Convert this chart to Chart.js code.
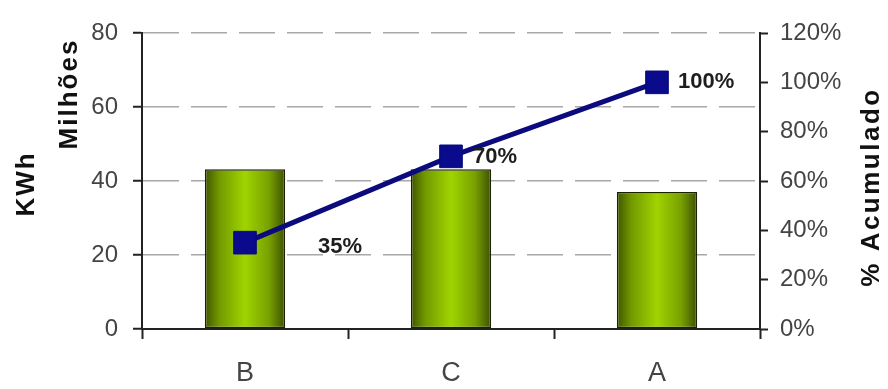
<!DOCTYPE html>
<html>
<head>
<meta charset="utf-8">
<script src="https://cdn.jsdelivr.net/npm/chart.js@4/dist/chart.umd.min.js"></script>
<style>
  html, body { margin: 0; padding: 0; background: #fff; }
  #wrap { width: 888px; height: 389px; }
</style>
</head>
<body>
<div id="wrap"><canvas id="pareto" width="888" height="389"></canvas></div>
<script>
// consumo por grupo (milhões de KWh) e percentual acumulado
const categorias = ['B', 'C', 'A'];
const consumo = [43.2, 43.2, 37.0];
const acumulado = [0.35, 0.70, 1.00];
const kwhTicks = [0, 20, 40, 60, 80];
const pctTicks = [0, 0.2, 0.4, 0.6, 0.8, 1.0, 1.2];

const SANS = '"Liberation Sans", Arial, sans-serif';
const BAR_FRACTION = 0.39;

// gradiente horizontal das barras (escuro nas bordas, claro no meio)
function barGradient(ctx) {
  const chart = ctx.chart;
  const area = chart.chartArea;
  if (!area) return '#8fbf00';
  const x = chart.scales.x.getPixelForValue(ctx.dataIndex);
  const half = (area.right - area.left) / categorias.length * BAR_FRACTION / 2;
  const g = chart.ctx.createLinearGradient(x - half, 0, x + half, 0);
  g.addColorStop(0, '#3f5400');
  g.addColorStop(0.18, '#729a00');
  g.addColorStop(0.5, '#a0d400');
  g.addColorStop(0.8, '#78a000');
  g.addColorStop(1, '#3c5000');
  return g;
}

// rótulos de valor do acumulado, deslocados para a direita de cada ponto
const labelOffsets = [{ dx: 73, dy: 4 }, { dx: 22, dy: 1 }, { dx: 21, dy: 0 }];
const pointLabels = {
  id: 'pointLabels',
  afterDatasetsDraw(chart) {
    const meta = chart.getDatasetMeta(1);
    const ctx = chart.ctx;
    ctx.save();
    ctx.font = 'bold 22px ' + SANS;
    ctx.fillStyle = '#1e1e1e';
    ctx.textAlign = 'left';
    ctx.textBaseline = 'middle';
    meta.data.forEach((pt, i) => {
      const off = labelOffsets[i];
      ctx.fillText(Math.round(acumulado[i] * 100) + '%', pt.x + off.dx, pt.y + off.dy);
    });
    ctx.restore();
  },
};

// títulos dos eixos, girados
const axisTitles = {
  id: 'axisTitles',
  afterDraw(chart) {
    const ctx = chart.ctx;
    const draw = (text, x, y, spacing) => {
      ctx.save();
      ctx.translate(x, y);
      ctx.rotate(-Math.PI / 2);
      ctx.font = 'bold 26px ' + SANS;
      ctx.letterSpacing = spacing + 'px';
      ctx.fillStyle = '#111';
      ctx.textAlign = 'center';
      ctx.textBaseline = 'middle';
      ctx.fillText(text, 0, 0);
      ctx.restore();
    };
    draw('Milhões', 70, 94, 2);
    draw('KWh', 27, 184, 2);
    draw('% Acumulado', 872, 187, 2.5);
  },
};

new Chart(document.getElementById('pareto'), {
  data: {
    labels: categorias,
    datasets: [
      {
        type: 'bar',
        data: consumo,
        yAxisID: 'y',
        order: 2,
        backgroundColor: barGradient,
        borderColor: '#1c2200',
        borderWidth: 1.5,
        borderSkipped: false,
        categoryPercentage: 1,
        barPercentage: BAR_FRACTION,
      },
      {
        type: 'line',
        data: acumulado,
        yAxisID: 'y1',
        order: 1,
        borderColor: '#0b0b7e',
        borderWidth: 5,
        pointStyle: 'rect',
        pointRadius: 16,
        pointBackgroundColor: '#0a0a8c',
        pointBorderColor: '#0a0a7a',
        pointBorderWidth: 1,
        tension: 0,
      },
    ],
  },
  plugins: [pointLabels, axisTitles],
  options: {
    responsive: false,
    animation: false,
    layout: { padding: { top: 33, left: 0, right: 0, bottom: 0 } },
    plugins: {
      legend: { display: false },
      tooltip: { enabled: false },
    },
    scales: {
      x: {
        afterFit: (s) => { s.height = 60; },
        offset: true,
        grid: {
          offset: true,
          drawOnChartArea: false,
          drawTicks: true,
          tickLength: 10,
          tickColor: '#222',
          tickWidth: 2,
        },
        border: { color: '#222', width: 2 },
        ticks: {
          color: '#444',
          font: { family: SANS, size: 27 },
          padding: 18,
        },
      },
      y: {
        position: 'left',
        min: 0,
        max: 80,
        afterFit: (s) => { s.width = 142; },
        afterBuildTicks: (s) => { s.ticks = kwhTicks.map((v) => ({ value: v })); },
        grid: {
          color: (c) => (c.tick && c.tick.value === 0 ? 'rgba(0,0,0,0)' : '#a8a8a8'),
          lineWidth: 1.5,
          drawTicks: true,
          tickLength: 9,
          tickColor: '#222',
          tickWidth: 2,
        },
        border: { color: '#222', width: 2, dash: [36, 12] },
        ticks: {
          color: '#444',
          font: { family: SANS, size: 24 },
          padding: 15,
        },
      },
      y1: {
        position: 'right',
        min: 0,
        max: 1.2,
        afterFit: (s) => { s.width = 128; },
        afterBuildTicks: (s) => { s.ticks = pctTicks.map((v) => ({ value: v })); },
        grid: {
          drawOnChartArea: false,
          drawTicks: true,
          tickLength: 8,
          tickColor: '#222',
          tickWidth: 2,
        },
        border: { color: '#222', width: 2 },
        ticks: {
          color: '#444',
          font: { family: SANS, size: 24 },
          padding: 12,
          callback: (v) => Math.round(v * 100) + '%',
        },
      },
    },
  },
});
</script>
</body>
</html>
